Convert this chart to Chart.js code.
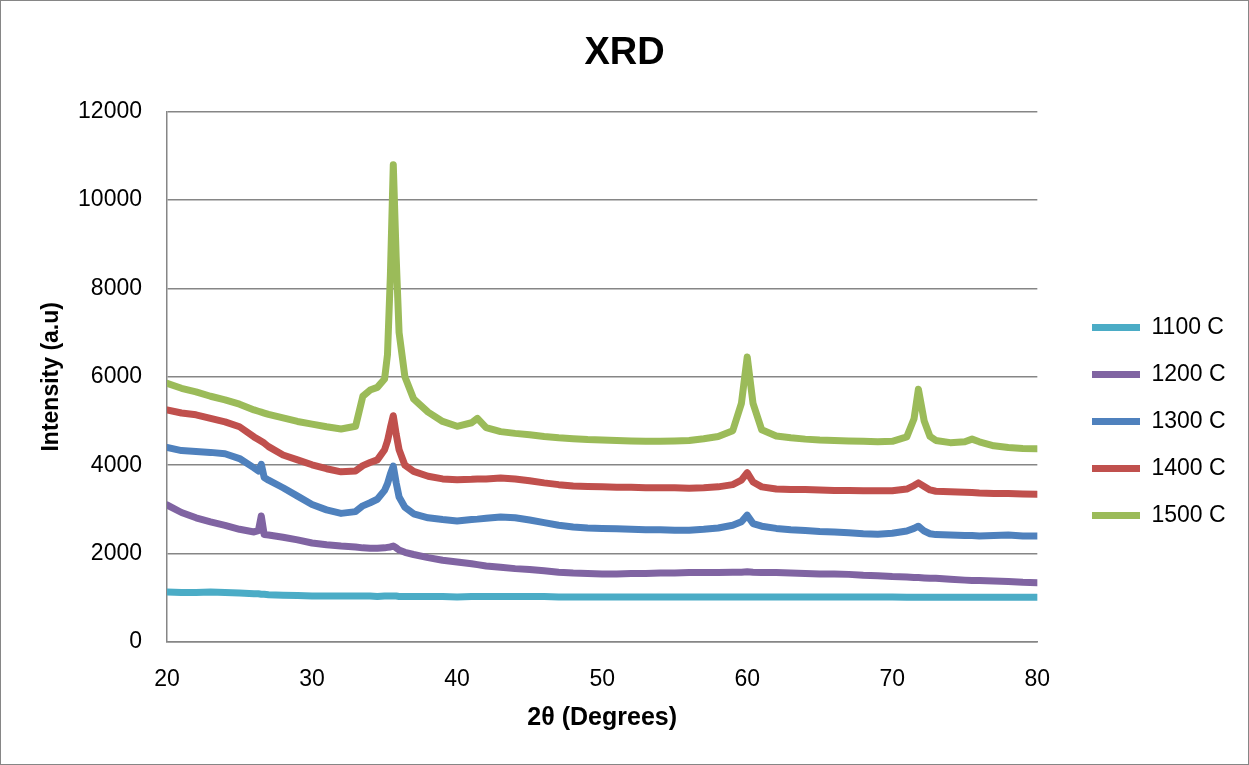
<!DOCTYPE html>
<html>
<head>
<meta charset="utf-8">
<title>XRD</title>
<script src="https://cdn.jsdelivr.net/npm/chart.js@4"></script>
<style>
  html, body { margin: 0; padding: 0; background: #fff; }
  #wrap { width: 1249px; height: 765px; }
</style>
</head>
<body>
<div id="wrap"><canvas id="chart" width="1249" height="765"></canvas></div>
<script>
// 2-theta positions (degrees) shared by all runs
var twoTheta = [20, 21, 22, 23, 24, 25, 26, 26.3, 26.5, 26.7, 27, 28, 29, 30, 31, 32, 33, 33.5, 34, 34.5,
  35, 35.2, 35.4, 35.6, 35.8, 36, 36.4, 37, 38, 39, 40, 41, 41.4, 42, 43, 44, 45, 46, 47, 48,
  49, 50, 51, 52, 53, 54, 55, 56, 57, 58, 59, 59.6, 60, 60.4, 61, 62, 63, 64, 65, 66,
  67, 68, 69, 70, 71, 71.5, 71.8, 72.2, 72.6, 73, 74, 75, 75.5, 76, 77, 78, 79, 80];

// intensity (a.u) per calcination temperature
var i1100 = [1130, 1120, 1120, 1130, 1120, 1110, 1090, 1090, 1080, 1080, 1070, 1060, 1050, 1040, 1040, 1040, 1040, 1040, 1040, 1030,
  1040, 1040, 1040, 1040, 1040, 1030, 1030, 1030, 1030, 1030, 1020, 1030, 1030, 1030, 1030, 1030, 1030, 1030, 1020, 1020,
  1020, 1020, 1020, 1020, 1020, 1020, 1020, 1020, 1020, 1020, 1020, 1020, 1020, 1020, 1020, 1020, 1020, 1020, 1020, 1020,
  1020, 1020, 1020, 1020, 1010, 1010, 1010, 1010, 1010, 1010, 1010, 1010, 1010, 1010, 1010, 1010, 1010, 1010];
var i1200 = [3100, 2930, 2810, 2720, 2640, 2550, 2490, 2520, 2850, 2430, 2420, 2370, 2310, 2240, 2200, 2170, 2150, 2130, 2120, 2120,
  2130, 2140, 2150, 2170, 2130, 2080, 2030, 1980, 1910, 1850, 1810, 1770, 1750, 1720, 1690, 1660, 1640, 1610, 1580, 1560,
  1550, 1540, 1540, 1550, 1550, 1560, 1560, 1570, 1570, 1570, 1580, 1580, 1590, 1580, 1570, 1570, 1560, 1550, 1540, 1540,
  1530, 1510, 1500, 1480, 1470, 1460, 1460, 1450, 1440, 1440, 1420, 1400, 1390, 1390, 1380, 1370, 1350, 1340];
var i1300 = [4400, 4330, 4310, 4290, 4260, 4150, 3940, 3870, 4020, 3720, 3660, 3490, 3300, 3110, 2990, 2910, 2950, 3080, 3150, 3230,
  3430, 3580, 3800, 3980, 3600, 3280, 3050, 2900, 2810, 2770, 2740, 2770, 2780, 2800, 2830, 2810, 2760, 2700, 2640, 2600,
  2580, 2570, 2560, 2550, 2540, 2540, 2530, 2530, 2550, 2580, 2640, 2720, 2870, 2680, 2620, 2570, 2540, 2520, 2500, 2490,
  2470, 2450, 2440, 2460, 2510, 2570, 2620, 2510, 2450, 2430, 2420, 2410, 2410, 2400, 2410, 2420, 2400, 2400];
var i1400 = [5250, 5180, 5140, 5060, 4980, 4870, 4640, 4580, 4540, 4500, 4420, 4230, 4120, 4010, 3920, 3850, 3870, 3990, 4060, 4120,
  4350, 4550, 4850, 5120, 4700, 4350, 4000, 3860, 3750, 3690, 3670, 3680, 3690, 3690, 3710, 3690, 3650, 3600, 3560, 3530,
  3520, 3510, 3500, 3500, 3490, 3490, 3490, 3480, 3490, 3510, 3560, 3660, 3830, 3620, 3510, 3460, 3450, 3450, 3440, 3430,
  3430, 3420, 3420, 3420, 3460, 3540, 3600, 3520, 3440, 3410, 3400, 3390, 3380, 3370, 3360, 3360, 3350, 3340];
var i1500 = [5850, 5740, 5660, 5560, 5480, 5380, 5250, 5220, 5200, 5180, 5150, 5070, 4990, 4930, 4870, 4820, 4880, 5560, 5700, 5760,
  5950, 6500, 8300, 10800, 8700, 7000, 6000, 5500, 5200, 4990, 4880, 4960, 5060, 4850, 4760, 4720, 4690, 4650, 4620, 4600,
  4580, 4570, 4560, 4550, 4540, 4540, 4550, 4560, 4600, 4650, 4780, 5400, 6450, 5400, 4800, 4660, 4620, 4590, 4570, 4560,
  4550, 4540, 4530, 4540, 4640, 5050, 5720, 5000, 4650, 4560, 4510, 4530, 4590, 4530, 4440, 4400, 4380, 4370];

var seriesNames = ['1100 C', '1200 C', '1300 C', '1400 C', '1500 C'];
var seriesColors = ['#4BACC6', '#8064A2', '#4F81BD', '#C0504D', '#9BBB59'];
var seriesValues = [i1100, i1200, i1300, i1400, i1500];

var font = "'Liberation Sans', Arial, sans-serif";
var grey = '#868686';

function toPoints(vals) {
  return twoTheta.map(function(t, i) {
    return { x: t, y: vals[i] };
  });
}

var datasets = seriesNames.map(function(name, i) {
  return {
    label: name,
    data: toPoints(seriesValues[i]),
    borderColor: seriesColors[i],
    backgroundColor: seriesColors[i],
    borderWidth: 7,
    borderCapStyle: 'round',
    borderJoinStyle: 'round',
    pointRadius: 0,
    pointStyle: 'line',
    fill: false,
    tension: 0
  };
});

// white page with a thin grey frame; title spans the full width,
// legend pinned to the right column
var frame = {
  id: 'frame',
  beforeDraw: function(chart) {
    var ctx = chart.ctx;
    ctx.save();
    ctx.fillStyle = '#fff';
    ctx.fillRect(0, 0, chart.width, chart.height);
    ctx.restore();
  },
  afterLayout: function(chart) {
    var lg = chart.legend;
    var h = lg.height;
    lg.left = 1068;
    lg.right = 1068 + lg.width;
    lg.top = 292;
    lg.bottom = 292 + h;
    if (chart.titleBlock) {
      chart.titleBlock.left = 0;
      chart.titleBlock.right = chart.width;
      chart.titleBlock.width = chart.width;
    }
  },
  afterDraw: function(chart) {
    var ctx = chart.ctx;
    ctx.save();
    ctx.strokeStyle = grey;
    ctx.lineWidth = 1;
    ctx.strokeRect(0.5, 0.5, chart.width - 1, chart.height - 1);
    ctx.restore();
  }
};

new Chart('chart', {
  type: 'line',
  data: { datasets: datasets },
  plugins: [frame],
  options: {
    responsive: false,
    animation: false,
    layout: { padding: { left: 0, right: 44, top: 0, bottom: 0 } },
    plugins: {
      tooltip: { enabled: false },
      title: {
        display: true,
        text: 'XRD',
        color: '#000',
        font: { family: font, size: 38, weight: 'bold' },
        padding: { top: 31, bottom: 35 }
      },
      legend: {
        position: 'right',
        align: 'start',
        labels: {
          usePointStyle: true,
          pointStyleWidth: 48,
          padding: 24,
          color: '#000',
          font: { family: font, size: 23 }
        }
      }
    },
    scales: {
      x: {
        type: 'linear',
        min: 20,
        max: 80,
        grid: { display: false, drawTicks: false },
        border: { display: true, color: grey, width: 1.5 },
        ticks: {
          stepSize: 10,
          padding: 24,
          color: '#000',
          font: { family: font, size: 23 }
        },
        title: {
          display: true,
          text: '2θ (Degrees)',
          color: '#000',
          font: { family: font, size: 25, weight: 'bold' },
          padding: { top: 0, bottom: 32 }
        },
        afterFit: function(scale) { scale.height = 123; }
      },
      y: {
        min: 0,
        max: 12000,
        grid: { color: grey, lineWidth: 1.5, drawTicks: false },
        border: { display: true, color: grey, width: 1.5 },
        ticks: {
          stepSize: 2000,
          padding: 25,
          color: '#000',
          font: { family: font, size: 23 },
          callback: function(v) { return String(v); }
        },
        title: {
          display: true,
          text: 'Intensity (a.u)',
          color: '#000',
          font: { family: font, size: 23, weight: 'bold' },
          padding: { top: 38, bottom: 0 }
        },
        afterFit: function(scale) { scale.width = 167; }
      }
    }
  }
});
</script>
</body>
</html>
